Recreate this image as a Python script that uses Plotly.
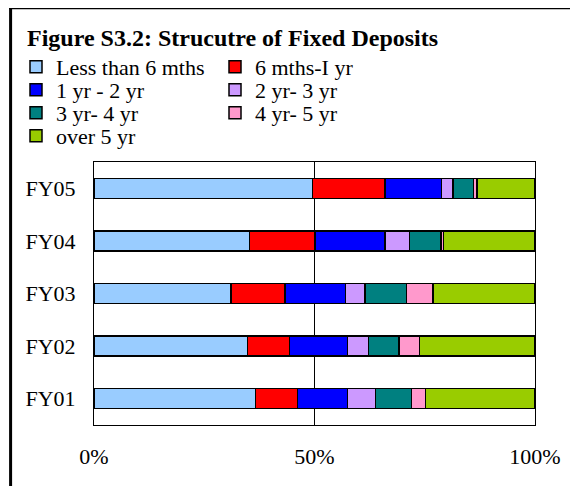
import plotly.graph_objects as go

W, H = 578, 486
OFF = 8  # page body margin of the html page

categories = ["FY01", "FY02", "FY03", "FY04", "FY05"]
series_names = ["Less than 6 mths", "6 mths-I yr", "1 yr - 2 yr", "2 yr- 3 yr",
                "3 yr- 4 yr", "4 yr- 5 yr", "over 5 yr"]
less_6m = [36.6, 34.8, 31.1, 35.3, 49.6]
m6_1y = [9.5, 9.5, 12.2, 14.8, 16.4]
y1_2 = [11.4, 13.2, 13.7, 15.9, 12.8]
y2_3 = [6.3, 4.8, 4.5, 5.5, 2.6]
y3_4 = [8.2, 6.9, 9.4, 7.2, 4.6]
y4_5 = [3.2, 4.6, 6.0, 0.5, 0.8]
over_5 = [24.8, 26.2, 23.1, 20.8, 13.2]
series_values = [less_6m, m6_1y, y1_2, y2_3, y3_4, y4_5, over_5]
colors = ["#99CCFF", "#FF0000", "#0000FF", "#CC99FF", "#008080", "#FF99CC", "#99CC00"]
x_ticks = [0, 0.5, 1.0]
x_tick_labels = ["0%", "50%", "100%"]

font = "Liberation Serif, Times New Roman, serif"

# legend slot positions (screen px): (left x, row centre y)
col_x = [16, 215]
row_y = [67, 90, 113, 136]
slots = [(col_x[i % 2], row_y[i // 2]) for i in range(7)]

legend_ids = ["legend"] + ["legend%d" % k for k in range(2, 8)]

fig = go.Figure()
for name, vals, col, lid in zip(series_names, series_values, colors, legend_ids):
    fig.add_trace(go.Bar(
        y=categories, x=vals, name=name, orientation="h", legend=lid,
        showlegend=True,
        marker=dict(color=col, line=dict(color="black", width=1.5)),
    ))

ML, MT = 93.5 - OFF, 162 - OFF
MR = W - (535 - OFF)
MB = H - (425 - OFF)
pw = W - ML - MR
ph = H - MT - MB

def px_x(p):
    return (p - OFF - ML) / pw

def px_y(p):
    return 1 - (p - OFF - MT) / ph

legends = {}
for lid, (sx, sy) in zip(legend_ids, slots):
    legends[lid] = dict(
        x=(sx - OFF) / W, xref="container", xanchor="left",
        y=1 - (sy - OFF) / H, yref="container", yanchor="middle",
        font=dict(size=22, family=font, color="black"),
        itemwidth=30, bgcolor="rgba(0,0,0,0)", borderwidth=0, visible=True,
    )

fig.update_layout(
    width=W, height=H, showlegend=True,
    barmode="stack", barnorm="fraction", bargap=0.62,
    paper_bgcolor="white", plot_bgcolor="white",
    margin=dict(l=ML, r=MR, t=MT, b=MB, autoexpand=False),
    font=dict(family=font, size=22, color="black"),
    title=dict(text="<b>Figure S3.2: Strucutre of Fixed Deposits</b>",
               font=dict(size=24, family=font, color="black"),
               x=(27 - OFF) / W, xanchor="left", xref="container",
               y=1 - (38 - OFF) / H, yanchor="middle", yref="container"),
    xaxis=dict(range=[0, 1], tickvals=x_ticks, ticktext=x_tick_labels,
               showgrid=True, gridcolor="black", gridwidth=1,
               showline=True, linecolor="black", linewidth=1, mirror=True,
               ticks="", ticklabelstandoff=12, zeroline=False,
               tickfont=dict(size=22, family=font)),
    yaxis=dict(categoryorder="array", categoryarray=categories,
               showline=True, linecolor="black", linewidth=1, mirror=True,
               ticks="", ticklabelstandoff=13, showgrid=False,
               tickfont=dict(size=22, family=font)),
    shapes=[
        dict(type="line", xref="paper", yref="paper", layer="above",
             x0=px_x(8.5), x1=px_x(W + 20), y0=px_y(8), y1=px_y(8),
             line=dict(color="black", width=2.5)),
        dict(type="line", xref="paper", yref="paper", layer="above",
             x0=px_x(10), x1=px_x(10), y0=px_y(7), y1=px_y(H + 20),
             line=dict(color="black", width=3)),
    ],
    **legends,
)

fig.write_html("out.html")
